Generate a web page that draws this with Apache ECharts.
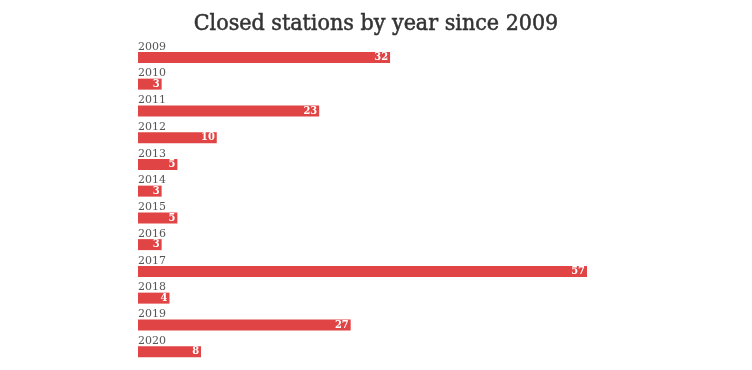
<!DOCTYPE html>
<html><head><meta charset="utf-8">
<script src="https://cdn.jsdelivr.net/npm/echarts@6/dist/echarts.min.js"></script>
<style>html,body{margin:0;padding:0;background:#fff}#c{width:752px;height:370px}</style>
</head><body><div id="c"></div>
<script>
var years = ['2009','2010','2011','2012','2013','2014','2015','2016','2017','2018','2019','2020'];
var closedStations = [32, 3, 23, 10, 5, 3, 5, 3, 57, 4, 27, 8];
var titleText = 'Closed stations by year since 2009';

var chart = echarts.init(document.getElementById('c'), null, {renderer: 'canvas'});
chart.setOption({
  animation: false,
  title: {
    text: titleText, left: 'center', top: 8,
    textStyle: {fontFamily: '"DejaVu Serif Condensed", "DejaVu Serif"', fontSize: 23, fontWeight: 'normal', color: '#333',
      textBorderColor: '#333', textBorderWidth: 0.5}
  },
  grid: {left: 138, width: 449, top: 44, height: 321},
  xAxis: {type: 'value', min: 0, max: 57,
    axisLine: {show: false}, axisTick: {show: false}, splitLine: {show: false}, axisLabel: {show: false}},
  yAxis: {
    type: 'category', data: years, inverse: true,
    axisLine: {show: false}, axisTick: {show: false}, splitLine: {show: false},
    axisLabel: {inside: true, align: 'left', verticalAlign: 'bottom', margin: 0, padding: [0,0,5,0],
      fontFamily: 'DejaVu Serif', fontSize: 11, color: '#555'}
  },
  series: [{
    type: 'bar', data: closedStations, barWidth: 11,
    itemStyle: {color: '#e04444'},
    label: {show: true, position: 'insideRight', distance: 2,
      fontFamily: '"DejaVu Serif Condensed", "DejaVu Serif"', fontWeight: 'bold', fontSize: 11, color: '#fff'}
  }]
});
</script></body></html>
